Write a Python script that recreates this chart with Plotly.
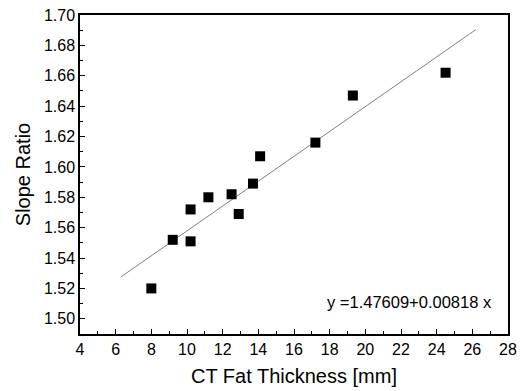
import plotly.graph_objects as go

fat_thickness = [8.0, 9.2, 10.2, 10.2, 11.2, 12.5, 12.9, 13.7, 14.1, 17.2, 19.3, 24.5]
slope_ratio = [1.520, 1.552, 1.551, 1.572, 1.580, 1.582, 1.569, 1.589, 1.607, 1.616, 1.647, 1.662]

fit_intercept = 1.47609
fit_slope = 0.00818
fit_x = [6.3, 26.2]
fit_y = [fit_intercept + fit_slope * v for v in fit_x]

FONT = "Liberation Sans, Arial"

fig = go.Figure()
fig.add_trace(go.Scatter(x=fit_x, y=fit_y, mode="lines",
                         line=dict(color="#808080", width=1), showlegend=False))
fig.add_trace(go.Scatter(x=fat_thickness, y=slope_ratio, mode="markers",
                         marker=dict(symbol="square", size=10, color="black"),
                         showlegend=False))

fig.add_annotation(x=1, y=0, xref="paper", yref="paper", xanchor="right", yanchor="bottom",
                   xshift=-14, yshift=21, showarrow=False,
                   text=f"y ={fit_intercept}+{fit_slope:.5f} x",
                   font=dict(size=16.5, color="black", family=FONT))

axis_common = dict(showline=True, linecolor="black", linewidth=1.5, mirror=True,
                   ticks="inside", ticklen=5, tickwidth=1, tickcolor="black",
                   showgrid=False, zeroline=False, automargin=False,
                   tickfont=dict(size=16, color="black", family=FONT))

fig.update_xaxes(range=[4, 28], dtick=2, tick0=4,
                 minor=dict(ticks="inside", ticklen=3, dtick=1, tickcolor="black"),
                 title=dict(text="CT Fat Thickness [mm]", standoff=12,
                            font=dict(size=20, color="black", family=FONT)),
                 **axis_common)
fig.update_yaxes(range=[1.49, 1.70], dtick=0.02, tick0=1.50, tickformat=".2f",
                 minor=dict(ticks="inside", ticklen=3, dtick=0.01, tickcolor="black"),
                 title=dict(text="Slope Ratio", standoff=8,
                            font=dict(size=20, color="black", family=FONT)),
                 **axis_common)

fig.update_layout(width=528, height=391, margin=dict(l=80, r=20, t=15, b=57),
                  plot_bgcolor="white", paper_bgcolor="white")

fig.write_html("out.html")
